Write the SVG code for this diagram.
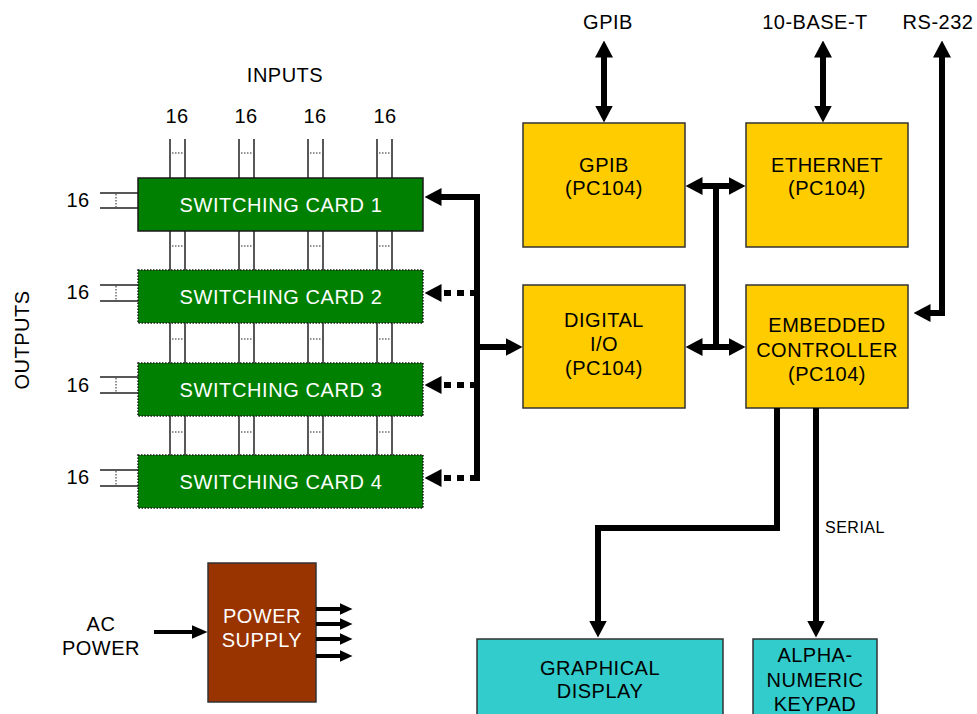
<svg xmlns="http://www.w3.org/2000/svg" width="977" height="714" viewBox="0 0 977 714">
<style>
.t{font-family:"Liberation Sans",Arial,sans-serif;font-size:20px;text-anchor:middle;fill:#000;letter-spacing:0.5px}
.w{fill:#fff;letter-spacing:0.6px}
.s{font-size:16px;text-anchor:start}
.card{fill:#008000;stroke:#1a1a1a;stroke-width:1.5}
.dot{stroke-dasharray:1.5,1.5}
.yel{fill:#FFCC00;stroke:#333;stroke-width:1.5}
.cy{fill:#33CCCC;stroke:#333;stroke-width:1.5}
.pw{fill:#993300;stroke:#333;stroke-width:1.5}
.bus{fill:none;stroke:#000;stroke-width:6;stroke-linejoin:miter}
.dash{stroke-dasharray:7,6}
.thin{fill:none;stroke:#222;stroke-width:1.5}
.tdot{fill:none;stroke:#222;stroke-width:1;stroke-dasharray:1.5,1.5}
.pa{fill:none;stroke:#000;stroke-width:4}
</style>
<defs>
<marker id="ah" markerUnits="userSpaceOnUse" markerWidth="17" markerHeight="18" viewBox="0 0 17 18" refX="0.5" refY="9" orient="auto-start-reverse"><path d="M0,0 L17,9 L0,18 z" fill="#000"/></marker>
<marker id="ahs" markerUnits="userSpaceOnUse" markerWidth="13" markerHeight="12" viewBox="0 0 13 12" refX="0.5" refY="6" orient="auto"><path d="M0,0 L13,6 L0,12 z" fill="#000"/></marker>
<marker id="ahm" markerUnits="userSpaceOnUse" markerWidth="16" markerHeight="14" viewBox="0 0 16 14" refX="0.5" refY="7" orient="auto"><path d="M0,0 L16,7 L0,14 z" fill="#000"/></marker>
</defs>

<g id="labels">
<text class="t" x="285" y="82">INPUTS</text>
<text class="t" x="177" y="123">16</text>
<text class="t" x="246" y="123">16</text>
<text class="t" x="315" y="123">16</text>
<text class="t" x="385" y="123">16</text>
<text class="t" x="78" y="207">16</text>
<text class="t" x="78" y="299">16</text>
<text class="t" x="78" y="392">16</text>
<text class="t" x="78" y="484">16</text>
<text class="t" transform="translate(29,340) rotate(-90)" x="0" y="0">OUTPUTS</text>
<text class="t" x="608" y="29">GPIB</text>
<text class="t" x="815" y="29">10-BASE-T</text>
<text class="t" x="938" y="29">RS-232</text>
<text class="t s" x="825" y="533">SERIAL</text>
<text class="t" x="101" y="631">AC</text>
<text class="t" x="101" y="655">POWER</text>
</g>

<g id="input-lines">
<path class="thin" d="M170,139V455M185,139V455M239,139V455M254,139V455M308,139V455M323,139V455M377,139V455M392,139V455"/>
<path class="tdot" d="M172,153H184M241,153H253M310,153H322M379,153H391"/>
<path class="tdot" d="M172,246H184M241,246H253M310,246H322M379,246H391"/>
<path class="tdot" d="M172,339H184M241,339H253M310,339H322M379,339H391"/>
<path class="tdot" d="M172,432H184M241,432H253M310,432H322M379,432H391"/>
</g>
<g id="output-lines">
<path class="thin" d="M100,193H138M100,208H138M100,285H138M100,301H138M100,377H138M100,393H138M100,470H138M100,486H138"/>
<path class="tdot" d="M116,194V207M116,286V300M116,378V392M116,471V485"/>
</g>

<g id="card1"><rect class="card" x="138" y="178" width="285" height="53"/><text class="t w" x="281" y="212">SWITCHING CARD 1</text></g>
<g id="card2"><rect class="card dot" x="138" y="270" width="285" height="53"/><text class="t w" x="281" y="304">SWITCHING CARD 2</text></g>
<g id="card3"><rect class="card dot" x="138" y="363" width="285" height="53"/><text class="t w" x="281" y="397">SWITCHING CARD 3</text></g>
<g id="card4"><rect class="card dot" x="138" y="455" width="285" height="53"/><text class="t w" x="281" y="489">SWITCHING CARD 4</text></g>

<g id="gpib"><rect class="yel" x="523" y="123" width="162" height="124"/><text class="t" x="604" y="172">GPIB</text><text class="t" x="604" y="195">(PC104)</text></g>
<g id="ethernet"><rect class="yel" x="746" y="123" width="162" height="124"/><text class="t" x="827" y="172">ETHERNET</text><text class="t" x="827" y="195">(PC104)</text></g>
<g id="digital-io"><rect class="yel" x="523" y="285" width="162" height="123"/><text class="t" x="604" y="327">DIGITAL</text><text class="t" x="604" y="351">I/O</text><text class="t" x="604" y="375">(PC104)</text></g>
<g id="controller"><rect class="yel" x="746" y="285" width="162" height="123"/><text class="t" x="827" y="332">EMBEDDED</text><text class="t" x="827" y="357">CONTROLLER</text><text class="t" x="827" y="381">(PC104)</text></g>

<g id="display"><rect class="cy" x="477" y="639" width="246" height="80"/><text class="t" x="600" y="675">GRAPHICAL</text><text class="t" x="600" y="698">DISPLAY</text></g>
<g id="keypad"><rect class="cy" x="753" y="639" width="124" height="80"/><text class="t" x="815" y="662">ALPHA-</text><text class="t" x="815" y="687">NUMERIC</text><text class="t" x="815" y="711">KEYPAD</text></g>

<g id="power"><rect class="pw" x="208" y="563" width="108" height="139"/><text class="t" x="262" y="623" style="fill:#fff">POWER</text><text class="t" x="262" y="647" style="fill:#fff">SUPPLY</text></g>

<g id="connectors">
<path class="bus" d="M604,57V106" marker-start="url(#ah)" marker-end="url(#ah)"/>
<path class="bus" d="M823,57V106" marker-start="url(#ah)" marker-end="url(#ah)"/>
<path class="bus" d="M942,57V313H930" marker-start="url(#ah)" marker-end="url(#ah)"/>
<path class="bus" d="M702,186H729" marker-start="url(#ah)" marker-end="url(#ah)"/>
<path class="bus" d="M702,347H729" marker-start="url(#ah)" marker-end="url(#ah)"/>
<path class="bus" d="M716,186V347"/>
<path class="bus" d="M441,197H477V481" marker-start="url(#ah)"/>
<path class="bus" d="M477,347H506" marker-end="url(#ah)"/>
<path class="bus dash" d="M477,293H441" marker-end="url(#ah)"/>
<path class="bus dash" d="M477,385H441" marker-end="url(#ah)"/>
<path class="bus dash" d="M477,478H441" marker-end="url(#ah)"/>
<path class="bus" d="M777,408V528H598V621" marker-end="url(#ah)"/>
<path class="bus" d="M816,408V621" marker-end="url(#ah)"/>
<path class="pa" d="M154,632H192" marker-end="url(#ahm)"/>
<path class="pa" d="M316,609H340" marker-end="url(#ahs)"/>
<path class="pa" d="M316,624H340" marker-end="url(#ahs)"/>
<path class="pa" d="M316,639H340" marker-end="url(#ahs)"/>
<path class="pa" d="M316,656H340" marker-end="url(#ahs)"/>
</g>
</svg>
